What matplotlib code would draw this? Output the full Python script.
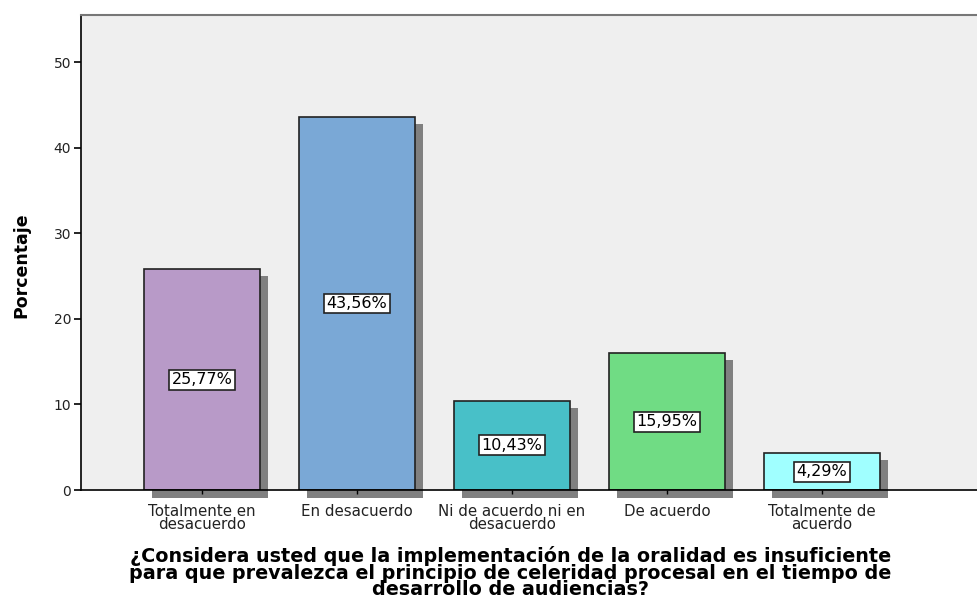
import matplotlib.pyplot as plt
import matplotlib.transforms as mtransforms
from matplotlib.patches import Rectangle

plt.rcParams['font.family'] = ['DejaVu Sans']

categories = ["Totalmente en\ndesacuerdo", "En desacuerdo", "Ni de acuerdo ni en\ndesacuerdo",
              "De acuerdo", "Totalmente de\nacuerdo"]
percentages = [25.77, 43.56, 10.43, 15.95, 4.29]
bar_colors = ["#b89ac8", "#7aa8d6", "#48c0c8", "#70dc84", "#a0ffff"]
y_ticks = [0, 10, 20, 30, 40, 50]
x_title = ("¿Considera usted que la implementación de la oralidad es insuficiente\n"
           "para que prevalezca el principio de celeridad procesal en el tiempo de\n"
           "desarrollo de audiencias?")

fig = plt.figure(figsize=(9.77, 6.11), dpi=100)
ax = fig.add_axes([81 / 977, 1 - 490 / 611, 1 - 81 / 977, (490 - 15) / 611])
ax.set_facecolor("#efefef")

width = 0.75
xs = list(range(len(categories)))

# shadow behind each bar (offset a few pixels right/down)
shadow = mtransforms.offset_copy(ax.transData, fig=fig, x=8, y=-7, units="dots")
shadow_low = mtransforms.offset_copy(ax.transData, fig=fig, x=8, y=-8, units="dots")
for x, v in zip(xs, percentages):
    ax.add_patch(Rectangle((x - width / 2, 0), width, v, facecolor="#808080", edgecolor="none",
                           transform=shadow, clip_on=False, zorder=1))
    # part that shows below the axis line
    ax.add_patch(Rectangle((x - width / 2, 0), width, 0.5, facecolor="#808080", edgecolor="none",
                           transform=shadow_low, clip_on=False, zorder=1))

ax.bar(xs, percentages, width=width, color=bar_colors, edgecolor="#222222", linewidth=1.2, zorder=3)

for x, v in zip(xs, percentages):
    ax.text(x, v / 2, "{:.2f}%".format(v).replace(".", ","), ha="center", va="center",
            fontsize=11.5, zorder=4,
            bbox=dict(boxstyle="square,pad=0.15", facecolor="white", edgecolor="#222222", linewidth=1.2))

ax.set_xlim(-0.78, 5.0)
ax.set_ylim(0, 55.5)
ax.set_yticks(y_ticks)
ax.set_xticks(xs)
ax.set_xticklabels(categories, fontsize=10.8, linespacing=0.85, color="#222222")
ax.tick_params(axis="y", labelsize=10, length=5, width=1.2, direction="out", pad=2, labelcolor="#222222")
ax.tick_params(axis="x", length=3, width=1, direction="out", pad=7)

ax.spines["right"].set_visible(False)
ax.spines["top"].set_color("#777777")
ax.spines["top"].set_linewidth(1.5)
ax.spines["left"].set_linewidth(1.2)
ax.spines["bottom"].set_linewidth(1.2)
ax.spines["bottom"].set_zorder(5)

ax.set_ylabel("Porcentaje", fontsize=12.5, fontweight="bold")
ax.yaxis.set_label_coords(-0.057, 0.474)
ax.text(1.99, -0.118, x_title, transform=ax.get_xaxis_transform(), ha="center", va="top",
        fontsize=13.8, fontweight="bold", linespacing=0.84)

fig.savefig("out.png", dpi=100)
